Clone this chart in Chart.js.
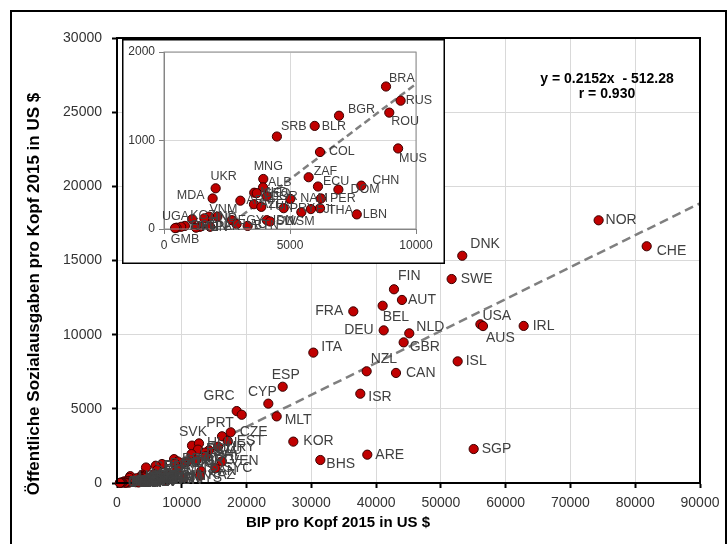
<!DOCTYPE html>
<html>
<head>
<meta charset="utf-8">
<script src="https://cdn.jsdelivr.net/npm/chart.js@4.4.1/dist/chart.umd.min.js"></script>
<style>
  html, body { margin: 0; padding: 0; background: #fff; }
  #wrap { position: relative; width: 728px; height: 544px; overflow: hidden; }
  #mainChart { position: absolute; left: 0; top: 0; }
  #insetChart { position: absolute; left: 122px; top: 39px; }
</style>
</head>
<body>
<div id="wrap">
  <canvas id="mainChart" width="728" height="544"></canvas>
  <canvas id="insetChart" width="323" height="225"></canvas>
</div>
<script>
// ---------- Daten ----------
// Ländercodes, BIP pro Kopf 2015 (US $), öffentliche Sozialausgaben pro Kopf 2015 (US $)
const countries = [
  'NOR', 'CHE', 'DNK', 'SWE', 'FIN', 'AUT', 'BEL', 'FRA', 'DEU', 'NLD',
  'GBR', 'USA', 'AUS', 'IRL', 'ISL', 'ITA', 'NZL', 'CAN', 'ISR', 'ESP',
  'CYP', 'GRC', 'SVN', 'MLT', 'KOR', 'PRT', 'CZE', 'SGP', 'ARE', 'BHS',
  'SVK', 'HUN', 'EST', 'URY', 'POL', 'LTU', 'LVA', 'HRV', 'CHL', 'ARG',
  'TUR', 'VEN', 'SYC', 'CRI', 'PAN', 'KAZ', 'MYS',
  'BRA', 'RUS', 'ROU', 'BGR', 'BLR', 'SRB', 'COL', 'MUS', 'MNG', 'ZAF',
  'UKR', 'ALB', 'ECU', 'CHN', 'DOM', 'MDA', 'PER', 'MKD', 'GEO', 'ARM',
  'JOR', 'NAM', 'AZE', 'TUN', 'PRY', 'WSM', 'FJI', 'THA', 'LBN', 'KGZ',
  'VNM', 'IND', 'HND', 'EGY', 'LAO', 'IDN', 'BTN', 'SLV', 'PAK', 'NPL',
  'KEN', 'BGD', 'TJK', 'UGA', 'GMB'
];
const gdp = [
  74350, 81770, 53300, 51660, 42760, 43990, 41010, 36480, 41170, 45120,
  44250, 56100, 56500, 62780, 52590, 30310, 38540, 43070, 37560, 25580,
  23360, 18480, 19250, 24650, 27220, 16210, 17550, 55060, 38640, 31390,
  11580, 12660, 17100, 15600, 12500, 14200, 13600, 11500, 13700, 12300,
  10850, 16200, 15200, 10100, 13000, 12800, 10300,
  8810, 9390, 8940, 6945, 5980, 4480, 6190, 9290, 3940, 5740,
  2050, 3930, 6110, 7830, 6920, 1930, 6230, 3580, 3680, 3030,
  4080, 5010, 3570, 3860, 4750, 5450, 5830, 6190, 7650, 1120,
  2120, 1790, 1600, 2690, 2880, 4080, 3320, 4210, 1830, 1430,
  1270, 830, 680, 500, 440
];
const social = [
  17710, 15960, 15320, 13750, 13060, 12340, 11950, 11570, 10290, 10090,
  9480, 10700, 10580, 10590, 8200, 8790, 7530, 7420, 6020, 6490,
  5350, 4850, 4600, 4490, 2790, 3150, 3420, 2290, 1910, 1550,
  2520, 2670, 2830, 2450, 2250, 2200, 2050, 1950, 1800, 1550,
  1440, 1450, 1000, 1330, 800, 500, 300,
  1610, 1450, 1315, 1280, 1165, 1045, 870, 910, 565, 585,
  460, 470, 480, 490, 445, 345, 345, 410, 405, 320,
  370, 340, 280, 250, 235, 190, 225, 235, 165, 110,
  140, 140, 120, 100, 55, 100, 35, 85, 25, 25,
  15, 35, 25, 15, 10
];

// Regressionsgerade laut Beschriftung
const trendSlope = 0.2152;
const trendIntercept = -512.28;
const equationText = ['y = 0.2152x  - 512.28', 'r = 0.930'];

// Achsen
const xTitle = 'BIP pro Kopf 2015 in US $';
const yTitle = 'Öffentliche Sozialausgaben pro Kopf 2015 in US $';
const mainXTicks = [0, 90000, 10000]; // min, max, Schritt
const mainYTicks = [0, 30000, 5000];
const insetXTicks = [0, 10000, 5000];
const insetYTicks = [0, 2000, 1000];

// ---------- Stil ----------
const FONT = "'Liberation Sans', Arial, sans-serif";
const red = '#c00000';
const gridGray = '#d9d9d9';
const textGray = '#404040';

// Beschriftungsposition je Land: [dx, dy, Ausrichtung]
const mainPlace = {
  DNK: [8, -12, 'left'], SWE: [9, 0, 'left'], FIN: [4, -13, 'left'],
  AUT: [6, 0, 'left'], FRA: [-10, 0, 'right'], BEL: [0, 11, 'left'],
  DEU: [-10, 0, 'right'], NLD: [7, -6, 'left'], GBR: [6, 5, 'left'],
  ITA: [8, -5, 'left'], NZL: [4, -12, 'left'], CAN: [10, 0, 'left'],
  ISR: [8, 3, 'left'], USA: [2, -8, 'left'], AUS: [3, 12, 'left'],
  IRL: [9, 0, 'left'], ISL: [8, 0, 'left'], BHS: [6, 4, 'left'],
  KOR: [10, 0, 'left'], MLT: [8, 4, 'left'], NOR: [7, 0, 'left'],
  CHE: [10, 5, 'left'], ESP: [-11, -12, 'left'], CYP: [-6, -12, 'center'],
  GRC: [-2, -15, 'right'], PRT: [-2, -13, 'center'], CZE: [9, 0, 'left'],
  SVK: [1, -13, 'center'], EST: [9, 0, 'left']
};
const insetPlace = {
  BRA: [3, -8, 'left'], RUS: [5, 0, 'left'], ROU: [2, 9, 'left'],
  BGR: [9, -6, 'left'], BLR: [7, 1, 'left'], SRB: [4, -10, 'left'],
  COL: [9, 0, 'left'], MUS: [1, 10, 'left'], MNG: [5, -12, 'center'],
  ZAF: [5, -6, 'left'], UKR: [8, -12, 'center'], ALB: [5, -5, 'left'],
  ECU: [5, -5, 'left'], CHN: [11, -5, 'left'], DOM: [12, 0, 'left'],
  MDA: [-8, -3, 'right'], PER: [9, 0, 'left'], UGA: [-1, -11, 'center'],
  KGZ: [-2, -4, 'left'], VNM: [6, -7, 'center'], GMB: [10, 11, 'center'],
  NAM: [10, 0, 'left'], THA: [8, 2, 'left'], FJI: [5, 0, 'left'],
  WSM: [-2, 9, 'center'], LBN: [6, 0, 'left']
};
const hiddenLabels = ['SVN'];

// ---------- Plugins ----------
// Länderkürzel neben die Punkte schreiben
const pointLabels = {
  id: 'pointLabels',
  afterDatasetsDraw(chart, args, opts) {
    const meta = chart.getDatasetMeta(opts.dsIndex);
    const ctx = chart.ctx;
    ctx.save();
    ctx.font = opts.font;
    ctx.fillStyle = textGray;
    ctx.textBaseline = 'middle';
    meta.data.forEach((pt, i) => {
      const code = opts.names[i];
      if (hiddenLabels.includes(code)) return;
      const p = opts.place[code] || opts.def;
      ctx.textAlign = p[2];
      ctx.fillText(code, pt.x + p[0], pt.y + p[1]);
    });
    ctx.restore();
  }
};

// Rahmen, Achsentitel, Gleichung
const frame = {
  id: 'frame',
  beforeDraw(chart, args, opts) {
    const ctx = chart.ctx;
    ctx.save();
    ctx.fillStyle = '#fff';
    ctx.fillRect(0, 0, chart.width, chart.height);
    ctx.strokeStyle = '#000';
    ctx.lineWidth = opts.outerWidth;
    const o = opts.outer;
    ctx.strokeRect(o[0], o[1], o[2], o[3]);
    ctx.restore();
  },
  afterDatasetsDraw(chart, args, opts) {
    const a = chart.chartArea;
    const ctx = chart.ctx;
    ctx.save();
    ctx.strokeStyle = opts.areaColor;
    ctx.lineWidth = opts.areaWidth;
    ctx.strokeRect(a.left, a.top, a.right - a.left, a.bottom - a.top);
    ctx.restore();
  },
  afterDraw(chart, args, opts) {
    if (!opts.titles) return;
    const ctx = chart.ctx;
    ctx.save();
    ctx.fillStyle = '#000';
    ctx.textAlign = 'center';
    ctx.textBaseline = 'middle';
    ctx.font = 'bold 15px ' + FONT;
    ctx.fillText(xTitle, 338, 523);
    ctx.save();
    ctx.translate(34, 294);
    ctx.rotate(-Math.PI / 2);
    ctx.font = 'bold 17px ' + FONT;
    ctx.fillText(yTitle, 0, 0);
    ctx.restore();
    ctx.font = 'bold 14px ' + FONT;
    ctx.fillText(equationText[0], 607, 79);
    ctx.fillText(equationText[1], 607, 94);
    ctx.restore();
  }
};

// ---------- Datenaufbereitung ----------
function makePoints(maxX) {
  const pts = [];
  const names = [];
  countries.forEach((c, i) => {
    if (gdp[i] <= maxX) {
      pts.push({ x: gdp[i], y: social[i] });
      names.push(c);
    }
  });
  return { pts, names };
}

function trendPoints(maxX) {
  const x0 = -trendIntercept / trendSlope;
  return [
    { x: x0, y: trendSlope * x0 + trendIntercept },
    { x: maxX, y: trendSlope * maxX + trendIntercept }
  ];
}

function scaleOpts(t, fontSize, fitProp, fitVal, pad, borderColor, borderWidth) {
  return {
    type: 'linear',
    min: t[0],
    max: t[1],
    ticks: {
      stepSize: t[2],
      autoSkip: false,
      maxRotation: 0,
      padding: pad,
      color: '#333',
      font: { size: fontSize, family: FONT },
      callback: (v) => String(v)
    },
    grid: {
      color: gridGray,
      lineWidth: 1,
      tickLength: 5,
      tickColor: borderColor,
      tickWidth: borderWidth
    },
    border: { display: true, color: borderColor, width: borderWidth },
    afterFit(s) { s[fitProp] = fitVal; }
  };
}

function buildChart(canvasId, o) {
  const d = makePoints(o.maxX);
  return new Chart(document.getElementById(canvasId), {
    type: 'scatter',
    data: {
      datasets: [
        {
          type: 'line',
          data: trendPoints(o.maxX),
          borderColor: '#7f7f7f',
          borderWidth: 2.5,
          borderDash: o.dash,
          pointRadius: 0,
          fill: false,
          order: 2
        },
        {
          data: d.pts,
          backgroundColor: red,
          borderColor: '#3a0000',
          borderWidth: 1,
          pointRadius: 4.6,
          clip: false,
          order: 1
        }
      ]
    },
    options: {
      responsive: false,
      animation: false,
      devicePixelRatio: 1,
      layout: { padding: o.padding },
      scales: {
        x: scaleOpts(o.xTicks, o.tickSize, 'height', o.xHeight, o.xPad, o.axisColor, o.axisWidth),
        y: scaleOpts(o.yTicks, o.tickSize, 'width', o.yWidth, o.yPad, o.axisColor, o.axisWidth)
      },
      plugins: {
        legend: { display: false },
        tooltip: { enabled: false },
        frame: o.frame,
        pointLabels: {
          dsIndex: 1,
          names: d.names,
          place: o.place,
          def: o.def,
          font: o.labelSize + 'px ' + FONT
        }
      }
    },
    plugins: [frame, pointLabels]
  });
}

// Hauptdiagramm
buildChart('mainChart', {
  maxX: mainXTicks[1],
  xTicks: mainXTicks,
  yTicks: mainYTicks,
  tickSize: 14,
  labelSize: 14,
  xHeight: 61,
  yWidth: 117,
  xPad: 7,
  yPad: 10,
  axisColor: '#000',
  axisWidth: 2,
  dash: [9, 5],
  padding: { left: 0, top: 38, right: 28, bottom: 0 },
  place: mainPlace,
  def: [8, 0, 'left'],
  frame: {
    outer: [11, 11, 715, 545], outerWidth: 2,
    areaColor: '#000', areaWidth: 2, titles: true
  }
});

// Ausschnitt bis 10000 US $
buildChart('insetChart', {
  maxX: insetXTicks[1],
  xTicks: insetXTicks,
  yTicks: insetYTicks,
  tickSize: 12,
  labelSize: 12.5,
  xHeight: 35,
  yWidth: 42,
  xPad: 4,
  yPad: 4,
  axisColor: '#7f7f7f',
  axisWidth: 1,
  dash: [7, 4],
  padding: { left: 0, top: 13, right: 29, bottom: 0 },
  place: insetPlace,
  def: [6, 0, 'left'],
  frame: {
    outer: [0.75, 0.75, 321.5, 223.5], outerWidth: 1.5,
    areaColor: '#8c8c8c', areaWidth: 1, titles: false
  }
});
</script>
</body>
</html>
